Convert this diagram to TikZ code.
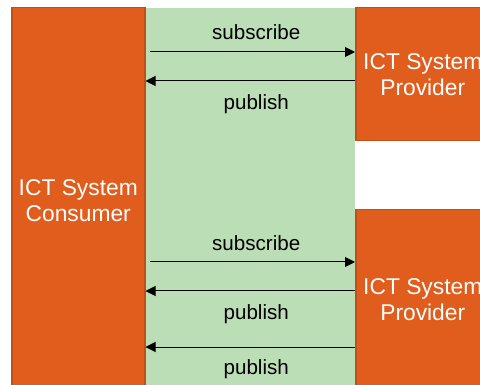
\documentclass[tikz,border=0pt]{standalone}
\usepackage{fontspec}
\setmainfont{Liberation Sans}
\usetikzlibrary{positioning,arrows.meta}
\definecolor{SysOrange}{RGB}{224,93,29}
\definecolor{SysEdge}{RGB}{192,80,24}
\definecolor{BusGreen}{RGB}{188,222,182}
\tikzset{
    sysbox/.style={rectangle, draw=SysEdge, fill=SysOrange, line width=1.5pt, text=white, align=center, inner sep=0pt, anchor=north west, font=\fontsize{22.8}{26}\selectfont},
    msg/.style={-{Triangle[length=10pt,width=10pt]}, line width=1pt},
    msglabel/.style={midway, xshift=6pt, font=\fontsize{20.6}{24}\selectfont}
}
\begin{document}
\begin{tikzpicture}[x=1pt, y=-1pt]
    \useasboundingbox (0,0) rectangle (480,385);

    % --- green band ---
    \node[fill=BusGreen, inner sep=0pt, anchor=north west, minimum width=211pt, minimum height=380pt] (bus) at (144,8) {};

    % --- systems ---
    \node[sysbox, minimum width=133pt, minimum height=386pt] (cons) at (11,7) {ICT System\\Consumer};
    \node[sysbox, minimum width=134pt, minimum height=133pt] (prov1) at (355,7) {ICT System\\Provider};
    \node[sysbox, minimum width=134pt, minimum height=180pt] (prov2) at (355,209) {ICT System\\Provider};

    % --- messages, upper provider ---
    \draw[msg, shorten <=4pt] (cons.east |- 0,52) -- node[msglabel, yshift=20pt] {subscribe} (prov1.west |- 0,52);
    \draw[msg] (prov1.west |- 0,81) -- node[msglabel, yshift=-23pt] {publish} (cons.east |- 0,81);

    % --- messages, lower provider ---
    \draw[msg, shorten <=4pt] (cons.east |- 0,262) -- node[msglabel, yshift=19pt] {subscribe} (prov2.west |- 0,262);
    \draw[msg] (prov2.west |- 0,291) -- node[msglabel, yshift=-23pt] {publish} (cons.east |- 0,291);
    \draw[msg] (prov2.west |- 0,347) -- node[msglabel, yshift=-22pt] {publish} (cons.east |- 0,347);
\end{tikzpicture}
\end{document}
